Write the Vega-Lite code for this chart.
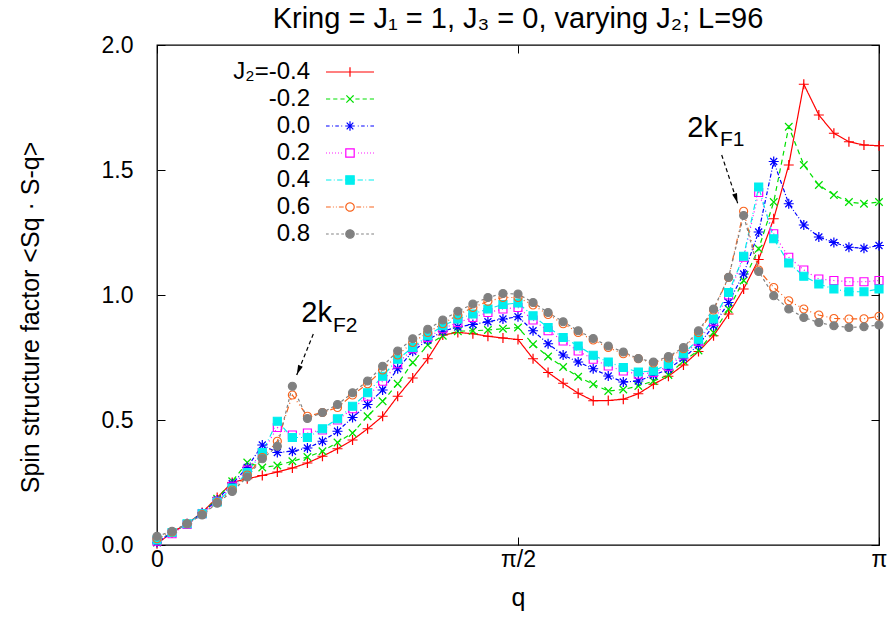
{
"$schema":"https://vega.github.io/schema/vega-lite/v6.json",
"width":722,"height":500,
"autosize":{"type":"none"},
"padding":{"left":157,"top":45,"right":14,"bottom":85},
"background":"white",
"title":{"text":"Kring = J₁ = 1, J₃ = 0, varying J₂; L=96","font":"Liberation Sans","fontSize":29,"fontWeight":"normal","color":"black","anchor":"middle","baseline":"alphabetic","offset":14,"dy":37},
"config":{
 "view":{"stroke":"black","strokeWidth":1.3},
 "axis":{"grid":false,"domain":false,"tickColor":"black","tickWidth":1,"labelColor":"black","labelFont":"Liberation Sans","labelFontSize":23,"titleFont":"Liberation Sans","titleFontSize":25,"titleFontWeight":"normal","titleColor":"black","labelFlush":false,"labelOverlap":false}
},
"datasets":{
"arrows":[{"name":"F2","q":0.6801,"S":0.844,"q2":0.6079,"S2":0.68},{"name":"F1","q":2.4571,"S":1.56,"q2":2.5267,"S2":1.3668}],
"texts":[{"q":0.7615,"S":0.892,"t":"2k","kind":"main"},{"q":0.7658,"S":0.853,"t":"F2","kind":"sub"},{"q":2.441,"S":1.632,"t":"2k","kind":"main"},{"q":2.4497,"S":1.596,"t":"F1","kind":"sub"}],
"main":[
{"q":0,"J2":"-0.4","S":0.005},{"q":0.06545,"J2":"-0.4","S":0.05},{"q":0.1309,"J2":"-0.4","S":0.085},{"q":0.19635,"J2":"-0.4","S":0.13},{"q":0.2618,"J2":"-0.4","S":0.19},{"q":0.32725,"J2":"-0.4","S":0.25},{"q":0.3927,"J2":"-0.4","S":0.265},{"q":0.45815,"J2":"-0.4","S":0.278},{"q":0.5236,"J2":"-0.4","S":0.292},{"q":0.58905,"J2":"-0.4","S":0.308},{"q":0.6545,"J2":"-0.4","S":0.328},{"q":0.71995,"J2":"-0.4","S":0.355},{"q":0.7854,"J2":"-0.4","S":0.385},{"q":0.85085,"J2":"-0.4","S":0.42},{"q":0.9163,"J2":"-0.4","S":0.465},{"q":0.98175,"J2":"-0.4","S":0.515},{"q":1.0472,"J2":"-0.4","S":0.595},{"q":1.11265,"J2":"-0.4","S":0.668},{"q":1.1781,"J2":"-0.4","S":0.745},{"q":1.24355,"J2":"-0.4","S":0.84},{"q":1.309,"J2":"-0.4","S":0.85},{"q":1.37445,"J2":"-0.4","S":0.845},{"q":1.4399,"J2":"-0.4","S":0.835},{"q":1.50535,"J2":"-0.4","S":0.828},{"q":1.5708,"J2":"-0.4","S":0.822},{"q":1.63625,"J2":"-0.4","S":0.745},{"q":1.7017,"J2":"-0.4","S":0.69},{"q":1.76715,"J2":"-0.4","S":0.647},{"q":1.8326,"J2":"-0.4","S":0.607},{"q":1.89805,"J2":"-0.4","S":0.577},{"q":1.9635,"J2":"-0.4","S":0.578},{"q":2.02895,"J2":"-0.4","S":0.583},{"q":2.0944,"J2":"-0.4","S":0.605},{"q":2.15985,"J2":"-0.4","S":0.643},{"q":2.2253,"J2":"-0.4","S":0.675},{"q":2.29075,"J2":"-0.4","S":0.72},{"q":2.3562,"J2":"-0.4","S":0.774},{"q":2.42165,"J2":"-0.4","S":0.837},{"q":2.4871,"J2":"-0.4","S":0.924},{"q":2.55255,"J2":"-0.4","S":1.024},{"q":2.618,"J2":"-0.4","S":1.142},{"q":2.68345,"J2":"-0.4","S":1.305},{"q":2.7489,"J2":"-0.4","S":1.52},{"q":2.81435,"J2":"-0.4","S":1.843},{"q":2.8798,"J2":"-0.4","S":1.72},{"q":2.94525,"J2":"-0.4","S":1.647},{"q":3.0107,"J2":"-0.4","S":1.613},{"q":3.07615,"J2":"-0.4","S":1.6},{"q":3.14159,"J2":"-0.4","S":1.597},
{"q":0,"J2":"-0.2","S":0.01},{"q":0.06545,"J2":"-0.2","S":0.05},{"q":0.1309,"J2":"-0.2","S":0.085},{"q":0.19635,"J2":"-0.2","S":0.128},{"q":0.2618,"J2":"-0.2","S":0.185},{"q":0.32725,"J2":"-0.2","S":0.255},{"q":0.3927,"J2":"-0.2","S":0.33},{"q":0.45815,"J2":"-0.2","S":0.31},{"q":0.5236,"J2":"-0.2","S":0.318},{"q":0.58905,"J2":"-0.2","S":0.335},{"q":0.6545,"J2":"-0.2","S":0.352},{"q":0.71995,"J2":"-0.2","S":0.375},{"q":0.7854,"J2":"-0.2","S":0.41},{"q":0.85085,"J2":"-0.2","S":0.448},{"q":0.9163,"J2":"-0.2","S":0.515},{"q":0.98175,"J2":"-0.2","S":0.575},{"q":1.0472,"J2":"-0.2","S":0.645},{"q":1.11265,"J2":"-0.2","S":0.73},{"q":1.1781,"J2":"-0.2","S":0.8},{"q":1.24355,"J2":"-0.2","S":0.837},{"q":1.309,"J2":"-0.2","S":0.855},{"q":1.37445,"J2":"-0.2","S":0.857},{"q":1.4399,"J2":"-0.2","S":0.86},{"q":1.50535,"J2":"-0.2","S":0.865},{"q":1.5708,"J2":"-0.2","S":0.87},{"q":1.63625,"J2":"-0.2","S":0.803},{"q":1.7017,"J2":"-0.2","S":0.754},{"q":1.76715,"J2":"-0.2","S":0.712},{"q":1.8326,"J2":"-0.2","S":0.673},{"q":1.89805,"J2":"-0.2","S":0.643},{"q":1.9635,"J2":"-0.2","S":0.616},{"q":2.02895,"J2":"-0.2","S":0.622},{"q":2.0944,"J2":"-0.2","S":0.636},{"q":2.15985,"J2":"-0.2","S":0.656},{"q":2.2253,"J2":"-0.2","S":0.68},{"q":2.29075,"J2":"-0.2","S":0.736},{"q":2.3562,"J2":"-0.2","S":0.778},{"q":2.42165,"J2":"-0.2","S":0.85},{"q":2.4871,"J2":"-0.2","S":0.944},{"q":2.55255,"J2":"-0.2","S":1.058},{"q":2.618,"J2":"-0.2","S":1.185},{"q":2.68345,"J2":"-0.2","S":1.372},{"q":2.7489,"J2":"-0.2","S":1.673},{"q":2.81435,"J2":"-0.2","S":1.52},{"q":2.8798,"J2":"-0.2","S":1.44},{"q":2.94525,"J2":"-0.2","S":1.4},{"q":3.0107,"J2":"-0.2","S":1.372},{"q":3.07615,"J2":"-0.2","S":1.365},{"q":3.14159,"J2":"-0.2","S":1.372},
{"q":0,"J2":"0.0","S":0.01},{"q":0.06545,"J2":"0.0","S":0.05},{"q":0.1309,"J2":"0.0","S":0.085},{"q":0.19635,"J2":"0.0","S":0.127},{"q":0.2618,"J2":"0.0","S":0.18},{"q":0.32725,"J2":"0.0","S":0.245},{"q":0.3927,"J2":"0.0","S":0.31},{"q":0.45815,"J2":"0.0","S":0.4},{"q":0.5236,"J2":"0.0","S":0.37},{"q":0.58905,"J2":"0.0","S":0.375},{"q":0.6545,"J2":"0.0","S":0.388},{"q":0.71995,"J2":"0.0","S":0.415},{"q":0.7854,"J2":"0.0","S":0.455},{"q":0.85085,"J2":"0.0","S":0.51},{"q":0.9163,"J2":"0.0","S":0.562},{"q":0.98175,"J2":"0.0","S":0.62},{"q":1.0472,"J2":"0.0","S":0.705},{"q":1.11265,"J2":"0.0","S":0.775},{"q":1.1781,"J2":"0.0","S":0.82},{"q":1.24355,"J2":"0.0","S":0.855},{"q":1.309,"J2":"0.0","S":0.872},{"q":1.37445,"J2":"0.0","S":0.882},{"q":1.4399,"J2":"0.0","S":0.893},{"q":1.50535,"J2":"0.0","S":0.904},{"q":1.5708,"J2":"0.0","S":0.913},{"q":1.63625,"J2":"0.0","S":0.857},{"q":1.7017,"J2":"0.0","S":0.805},{"q":1.76715,"J2":"0.0","S":0.76},{"q":1.8326,"J2":"0.0","S":0.732},{"q":1.89805,"J2":"0.0","S":0.705},{"q":1.9635,"J2":"0.0","S":0.676},{"q":2.02895,"J2":"0.0","S":0.652},{"q":2.0944,"J2":"0.0","S":0.656},{"q":2.15985,"J2":"0.0","S":0.679},{"q":2.2253,"J2":"0.0","S":0.703},{"q":2.29075,"J2":"0.0","S":0.748},{"q":2.3562,"J2":"0.0","S":0.8},{"q":2.42165,"J2":"0.0","S":0.877},{"q":2.4871,"J2":"0.0","S":0.97},{"q":2.55255,"J2":"0.0","S":1.084},{"q":2.618,"J2":"0.0","S":1.252},{"q":2.68345,"J2":"0.0","S":1.534},{"q":2.7489,"J2":"0.0","S":1.365},{"q":2.81435,"J2":"0.0","S":1.28},{"q":2.8798,"J2":"0.0","S":1.232},{"q":2.94525,"J2":"0.0","S":1.21},{"q":3.0107,"J2":"0.0","S":1.191},{"q":3.07615,"J2":"0.0","S":1.187},{"q":3.14159,"J2":"0.0","S":1.198},
{"q":0,"J2":"0.2","S":0.015},{"q":0.06545,"J2":"0.2","S":0.045},{"q":0.1309,"J2":"0.2","S":0.082},{"q":0.19635,"J2":"0.2","S":0.125},{"q":0.2618,"J2":"0.2","S":0.175},{"q":0.32725,"J2":"0.2","S":0.235},{"q":0.3927,"J2":"0.2","S":0.3},{"q":0.45815,"J2":"0.2","S":0.37},{"q":0.5236,"J2":"0.2","S":0.47},{"q":0.58905,"J2":"0.2","S":0.44},{"q":0.6545,"J2":"0.2","S":0.448},{"q":0.71995,"J2":"0.2","S":0.46},{"q":0.7854,"J2":"0.2","S":0.5},{"q":0.85085,"J2":"0.2","S":0.545},{"q":0.9163,"J2":"0.2","S":0.595},{"q":0.98175,"J2":"0.2","S":0.655},{"q":1.0472,"J2":"0.2","S":0.725},{"q":1.11265,"J2":"0.2","S":0.785},{"q":1.1781,"J2":"0.2","S":0.83},{"q":1.24355,"J2":"0.2","S":0.865},{"q":1.309,"J2":"0.2","S":0.89},{"q":1.37445,"J2":"0.2","S":0.91},{"q":1.4399,"J2":"0.2","S":0.93},{"q":1.50535,"J2":"0.2","S":0.944},{"q":1.5708,"J2":"0.2","S":0.95},{"q":1.63625,"J2":"0.2","S":0.9},{"q":1.7017,"J2":"0.2","S":0.857},{"q":1.76715,"J2":"0.2","S":0.816},{"q":1.8326,"J2":"0.2","S":0.776},{"q":1.89805,"J2":"0.2","S":0.743},{"q":1.9635,"J2":"0.2","S":0.716},{"q":2.02895,"J2":"0.2","S":0.696},{"q":2.0944,"J2":"0.2","S":0.683},{"q":2.15985,"J2":"0.2","S":0.69},{"q":2.2253,"J2":"0.2","S":0.715},{"q":2.29075,"J2":"0.2","S":0.76},{"q":2.3562,"J2":"0.2","S":0.815},{"q":2.42165,"J2":"0.2","S":0.895},{"q":2.4871,"J2":"0.2","S":1.0},{"q":2.55255,"J2":"0.2","S":1.151},{"q":2.618,"J2":"0.2","S":1.41},{"q":2.68345,"J2":"0.2","S":1.245},{"q":2.7489,"J2":"0.2","S":1.151},{"q":2.81435,"J2":"0.2","S":1.1},{"q":2.8798,"J2":"0.2","S":1.064},{"q":2.94525,"J2":"0.2","S":1.058},{"q":3.0107,"J2":"0.2","S":1.053},{"q":3.07615,"J2":"0.2","S":1.053},{"q":3.14159,"J2":"0.2","S":1.058},
{"q":0,"J2":"0.4","S":0.02},{"q":0.06545,"J2":"0.4","S":0.05},{"q":0.1309,"J2":"0.4","S":0.085},{"q":0.19635,"J2":"0.4","S":0.125},{"q":0.2618,"J2":"0.4","S":0.172},{"q":0.32725,"J2":"0.4","S":0.228},{"q":0.3927,"J2":"0.4","S":0.29},{"q":0.45815,"J2":"0.4","S":0.37},{"q":0.5236,"J2":"0.4","S":0.495},{"q":0.58905,"J2":"0.4","S":0.43},{"q":0.6545,"J2":"0.4","S":0.43},{"q":0.71995,"J2":"0.4","S":0.465},{"q":0.7854,"J2":"0.4","S":0.505},{"q":0.85085,"J2":"0.4","S":0.555},{"q":0.9163,"J2":"0.4","S":0.609},{"q":0.98175,"J2":"0.4","S":0.675},{"q":1.0472,"J2":"0.4","S":0.743},{"q":1.11265,"J2":"0.4","S":0.79},{"q":1.1781,"J2":"0.4","S":0.837},{"q":1.24355,"J2":"0.4","S":0.877},{"q":1.309,"J2":"0.4","S":0.904},{"q":1.37445,"J2":"0.4","S":0.924},{"q":1.4399,"J2":"0.4","S":0.944},{"q":1.50535,"J2":"0.4","S":0.962},{"q":1.5708,"J2":"0.4","S":0.968},{"q":1.63625,"J2":"0.4","S":0.917},{"q":1.7017,"J2":"0.4","S":0.87},{"q":1.76715,"J2":"0.4","S":0.83},{"q":1.8326,"J2":"0.4","S":0.796},{"q":1.89805,"J2":"0.4","S":0.759},{"q":1.9635,"J2":"0.4","S":0.732},{"q":2.02895,"J2":"0.4","S":0.71},{"q":2.0944,"J2":"0.4","S":0.692},{"q":2.15985,"J2":"0.4","S":0.696},{"q":2.2253,"J2":"0.4","S":0.723},{"q":2.29075,"J2":"0.4","S":0.765},{"q":2.3562,"J2":"0.4","S":0.823},{"q":2.42165,"J2":"0.4","S":0.904},{"q":2.4871,"J2":"0.4","S":1.01},{"q":2.55255,"J2":"0.4","S":1.155},{"q":2.618,"J2":"0.4","S":1.432},{"q":2.68345,"J2":"0.4","S":1.225},{"q":2.7489,"J2":"0.4","S":1.128},{"q":2.81435,"J2":"0.4","S":1.075},{"q":2.8798,"J2":"0.4","S":1.044},{"q":2.94525,"J2":"0.4","S":1.024},{"q":3.0107,"J2":"0.4","S":1.013},{"q":3.07615,"J2":"0.4","S":1.013},{"q":3.14159,"J2":"0.4","S":1.024},
{"q":0,"J2":"0.6","S":0.025},{"q":0.06545,"J2":"0.6","S":0.052},{"q":0.1309,"J2":"0.6","S":0.085},{"q":0.19635,"J2":"0.6","S":0.122},{"q":0.2618,"J2":"0.6","S":0.17},{"q":0.32725,"J2":"0.6","S":0.22},{"q":0.3927,"J2":"0.6","S":0.28},{"q":0.45815,"J2":"0.6","S":0.35},{"q":0.5236,"J2":"0.6","S":0.415},{"q":0.58905,"J2":"0.6","S":0.6},{"q":0.6545,"J2":"0.6","S":0.515},{"q":0.71995,"J2":"0.6","S":0.53},{"q":0.7854,"J2":"0.6","S":0.55},{"q":0.85085,"J2":"0.6","S":0.6},{"q":0.9163,"J2":"0.6","S":0.645},{"q":0.98175,"J2":"0.6","S":0.7},{"q":1.0472,"J2":"0.6","S":0.76},{"q":1.11265,"J2":"0.6","S":0.81},{"q":1.1781,"J2":"0.6","S":0.85},{"q":1.24355,"J2":"0.6","S":0.885},{"q":1.309,"J2":"0.6","S":0.92},{"q":1.37445,"J2":"0.6","S":0.95},{"q":1.4399,"J2":"0.6","S":0.975},{"q":1.50535,"J2":"0.6","S":0.99},{"q":1.5708,"J2":"0.6","S":0.99},{"q":1.63625,"J2":"0.6","S":0.96},{"q":1.7017,"J2":"0.6","S":0.922},{"q":1.76715,"J2":"0.6","S":0.885},{"q":1.8326,"J2":"0.6","S":0.85},{"q":1.89805,"J2":"0.6","S":0.82},{"q":1.9635,"J2":"0.6","S":0.79},{"q":2.02895,"J2":"0.6","S":0.765},{"q":2.0944,"J2":"0.6","S":0.745},{"q":2.15985,"J2":"0.6","S":0.728},{"q":2.2253,"J2":"0.6","S":0.748},{"q":2.29075,"J2":"0.6","S":0.785},{"q":2.3562,"J2":"0.6","S":0.85},{"q":2.42165,"J2":"0.6","S":0.94},{"q":2.4871,"J2":"0.6","S":1.07},{"q":2.55255,"J2":"0.6","S":1.335},{"q":2.618,"J2":"0.6","S":1.1},{"q":2.68345,"J2":"0.6","S":1.03},{"q":2.7489,"J2":"0.6","S":0.977},{"q":2.81435,"J2":"0.6","S":0.944},{"q":2.8798,"J2":"0.6","S":0.92},{"q":2.94525,"J2":"0.6","S":0.906},{"q":3.0107,"J2":"0.6","S":0.904},{"q":3.07615,"J2":"0.6","S":0.905},{"q":3.14159,"J2":"0.6","S":0.915},
{"q":0,"J2":"0.8","S":0.035},{"q":0.06545,"J2":"0.8","S":0.055},{"q":0.1309,"J2":"0.8","S":0.085},{"q":0.19635,"J2":"0.8","S":0.12},{"q":0.2618,"J2":"0.8","S":0.167},{"q":0.32725,"J2":"0.8","S":0.214},{"q":0.3927,"J2":"0.8","S":0.272},{"q":0.45815,"J2":"0.8","S":0.345},{"q":0.5236,"J2":"0.8","S":0.395},{"q":0.58905,"J2":"0.8","S":0.635},{"q":0.6545,"J2":"0.8","S":0.506},{"q":0.71995,"J2":"0.8","S":0.53},{"q":0.7854,"J2":"0.8","S":0.562},{"q":0.85085,"J2":"0.8","S":0.609},{"q":0.9163,"J2":"0.8","S":0.656},{"q":0.98175,"J2":"0.8","S":0.715},{"q":1.0472,"J2":"0.8","S":0.776},{"q":1.11265,"J2":"0.8","S":0.825},{"q":1.1781,"J2":"0.8","S":0.863},{"q":1.24355,"J2":"0.8","S":0.9},{"q":1.309,"J2":"0.8","S":0.935},{"q":1.37445,"J2":"0.8","S":0.964},{"q":1.4399,"J2":"0.8","S":0.99},{"q":1.50535,"J2":"0.8","S":1.006},{"q":1.5708,"J2":"0.8","S":1.004},{"q":1.63625,"J2":"0.8","S":0.97},{"q":1.7017,"J2":"0.8","S":0.93},{"q":1.76715,"J2":"0.8","S":0.893},{"q":1.8326,"J2":"0.8","S":0.857},{"q":1.89805,"J2":"0.8","S":0.826},{"q":1.9635,"J2":"0.8","S":0.796},{"q":2.02895,"J2":"0.8","S":0.772},{"q":2.0944,"J2":"0.8","S":0.746},{"q":2.15985,"J2":"0.8","S":0.732},{"q":2.2253,"J2":"0.8","S":0.754},{"q":2.29075,"J2":"0.8","S":0.79},{"q":2.3562,"J2":"0.8","S":0.857},{"q":2.42165,"J2":"0.8","S":0.944},{"q":2.4871,"J2":"0.8","S":1.071},{"q":2.55255,"J2":"0.8","S":1.318},{"q":2.618,"J2":"0.8","S":1.094},{"q":2.68345,"J2":"0.8","S":0.997},{"q":2.7489,"J2":"0.8","S":0.944},{"q":2.81435,"J2":"0.8","S":0.91},{"q":2.8798,"J2":"0.8","S":0.89},{"q":2.94525,"J2":"0.8","S":0.877},{"q":3.0107,"J2":"0.8","S":0.87},{"q":3.07615,"J2":"0.8","S":0.873},{"q":3.14159,"J2":"0.8","S":0.88}
]},
"layer":[
{"data":{"name":"main"},
 "mark":{"type":"line","strokeWidth":1.2},
 "encoding":{
  "x":{"field":"q","type":"quantitative","scale":{"domain":[0,3.141592653589793],"nice":false,"zero":false},
       "axis":{"orient":"bottom","values":[0,1.5707963267948966,3.141592653589793],"labelExpr":"datum.value < 0.5 ? '0' : (datum.value < 2 ? 'π/2' : 'π')","title":"q","tickSize":-8,"labelPadding":11,"titleY":60,"titleBaseline":"alphabetic"}},
  "y":{"field":"S","type":"quantitative","scale":{"domain":[0,2],"nice":false,"zero":false},
       "axis":{"orient":"left","values":[0,0.5,1,1.5,2],"format":".1f","title":"Spin structure factor  <Sq · S-q>","tickSize":-8,"labelPadding":32,"titleX":-127,"titleY":272,"titleBaseline":"middle","titleAlign":"center"}},
  "color":{"field":"J2","type":"nominal",
    "scale":{"domain":["-0.4","-0.2","0.0","0.2","0.4","0.6","0.8"],"range":["#ff0000","#00e000","#0000ff","#ff00ff","#00eeee","#f8641e","#808080"]},
    "legend":{"orient":"none","legendX":62,"legendY":15,"title":null,"padding":0,"labelFont":"Liberation Sans","labelFontSize":24,"labelColor":"black","labelAlign":"right","labelBaseline":"middle","labelOffset":-52,"symbolOffset":119,"symbolSize":144,"symbolStrokeWidth":1.2,"rowPadding":3,
      "labelExpr":"datum.label == '-0.4' ? 'J₂=-0.4' : datum.label",
      "encode":{"symbols":{"update":{
        "shape":{"signal":"datum.value=='-0.4' ? 'M-4,0H4M0,-0.8V0.8' : datum.value=='-0.2' ? 'M-4,0H-3.3M-2.8,0H-2.1M-1.6,0H-0.9M0.9,0H1.6M2.1,0H2.8M3.3,0H4M-0.6,-0.6L0.6,0.6M-0.6,0.6L0.6,-0.6' : datum.value=='0.0' ? 'M-4,0H-3.4M-3,0H-2.85M-2.45,0H-1.85M-1.45,0H-1.3M-0.8,0H0.8M0,-0.8V0.8M-0.55,-0.55L0.55,0.55M-0.55,0.55L0.55,-0.55M1.3,0H1.45M1.85,0H2.45M2.85,0H3M3.4,0H4' : datum.value=='0.2' ? 'M-4,0H-3.85M-3.5,0H-3.35M-3,0H-2.85M-2.5,0H-2.35M-2,0H-1.85M-1.5,0H-1.35M1.35,0H1.5M1.85,0H2M2.35,0H2.5M2.85,0H3M3.35,0H3.5M3.85,0H4M-0.7,-0.7H0.7V0.7H-0.7Z' : datum.value=='0.4' ? 'M-4,0H-3.1M-2.7,0H-2.55M-2.15,0H-1.25M-0.85,0H0.85M1.25,0H2.15M2.55,0H2.7M3.1,0H4M-0.7,-0.7H0.7V0.7H-0.7Z' : datum.value=='0.6' ? 'M-4,0H-3.2M-2.85,0H-2.7M-2.35,0H-2.2M-1.85,0H-1.05M1.05,0H1.85M2.2,0H2.35M2.7,0H2.85M3.2,0H4M0.7,0A0.7,0.7 0 1,1 -0.7,0A0.7,0.7 0 1,1 0.7,0Z' : 'M-4,0H-3.55M-3.15,0H-2.7M-2.3,0H-1.85M-1.45,0H-1M1,0H1.45M1.85,0H2.3M2.7,0H3.15M3.55,0H4M0.7,0A0.7,0.7 0 1,1 -0.7,0A0.7,0.7 0 1,1 0.7,0Z'"},
        "fill":{"signal":"datum.value=='0.4' ? '#00eeee' : datum.value=='0.8' ? '#808080' : 'transparent'"},
        "strokeDash":{"value":[1,0]},
        "opacity":{"value":1}
      }}}}},
  "strokeDash":{"field":"J2","type":"nominal","scale":{"domain":["0.8","0.6","0.4","0.2","0.0","-0.2","-0.4"],"range":[[3,3],[6,3,1,3,1,3],[6,3,1,3],[1,3],[4,2,1,2],[5,4],[1,0]]},"legend":null}
 }},
{"data":{"name":"main"},
 "mark":{"type":"point","filled":false,"strokeWidth":1.2,"size":100,"opacity":1},
 "encoding":{
  "x":{"field":"q","type":"quantitative","axis":null},
  "y":{"field":"S","type":"quantitative","axis":null},
  "stroke":{"field":"J2","type":"nominal","scale":{"domain":["0.8","0.6","0.4","0.2","0.0","-0.2","-0.4"],"range":["#808080","#f8641e","#00eeee","#ff00ff","#0000ff","#00e000","#ff0000"]},"legend":null},
  "fill":{"field":"J2","type":"nominal","scale":{"domain":["0.8","0.6","0.4","0.2","0.0","-0.2","-0.4"],"range":["#808080","transparent","#00eeee","transparent","transparent","transparent","transparent"]},"legend":null},
  "shape":{"field":"J2","type":"nominal","scale":{"domain":["0.8","0.6","0.4","0.2","0.0","-0.2","-0.4"],"range":["M0.8,0A0.8,0.8 0 1,1 -0.8,0A0.8,0.8 0 1,1 0.8,0Z","M0.8,0A0.8,0.8 0 1,1 -0.8,0A0.8,0.8 0 1,1 0.8,0Z","M-0.8,-0.8H0.8V0.8H-0.8Z","M-0.8,-0.8H0.8V0.8H-0.8Z","M-1,0H1M0,-1V1M-0.7,-0.7L0.7,0.7M-0.7,0.7L0.7,-0.7","M-0.75,-0.75L0.75,0.75M-0.75,0.75L0.75,-0.75","M-1,0H1M0,-1V1"]},"legend":null}
 }},
{"data":{"name":"arrows"},
 "mark":{"type":"rule","strokeDash":[4,3],"strokeWidth":1.2,"color":"black"},
 "encoding":{
  "x":{"field":"q","type":"quantitative","axis":{"orient":"top","labels":false,"title":null,"tickSize":-8,"values":[0,1.5707963267948966,3.141592653589793]}},
  "y":{"field":"S","type":"quantitative","axis":{"orient":"right","labels":false,"title":null,"tickSize":-8,"values":[0,0.5,1,1.5,2]}},
  "x2":{"field":"q2"},"y2":{"field":"S2"}
 }},
{"data":{"name":"arrows"},"transform":[{"filter":"datum.name == 'F2'"}],
 "mark":{"type":"point","shape":"M0,0L-0.5,-2L0.5,-2Z","size":100,"filled":true,"color":"black","opacity":1,"angle":22},
 "encoding":{"x":{"field":"q2","type":"quantitative","axis":null},"y":{"field":"S2","type":"quantitative","axis":null}}},
{"data":{"name":"arrows"},"transform":[{"filter":"datum.name == 'F1'"}],
 "mark":{"type":"point","shape":"M0,0L-0.5,-2L0.5,-2Z","size":100,"filled":true,"color":"black","opacity":1,"angle":342},
 "encoding":{"x":{"field":"q2","type":"quantitative","axis":null},"y":{"field":"S2","type":"quantitative","axis":null}}},
{"data":{"name":"texts"},"transform":[{"filter":"datum.kind == 'main'"}],
 "mark":{"type":"text","align":"right","baseline":"alphabetic","font":"Liberation Sans","fontSize":29,"color":"black"},
 "encoding":{"x":{"field":"q","type":"quantitative","axis":null},"y":{"field":"S","type":"quantitative","axis":null},"text":{"field":"t"}}},
{"data":{"name":"texts"},"transform":[{"filter":"datum.kind == 'sub'"}],
 "mark":{"type":"text","align":"left","baseline":"alphabetic","font":"Liberation Sans","fontSize":21,"color":"black"},
 "encoding":{"x":{"field":"q","type":"quantitative","axis":null},"y":{"field":"S","type":"quantitative","axis":null},"text":{"field":"t"}}}
],
"resolve":{"axis":{"x":"independent","y":"independent"}}
}
